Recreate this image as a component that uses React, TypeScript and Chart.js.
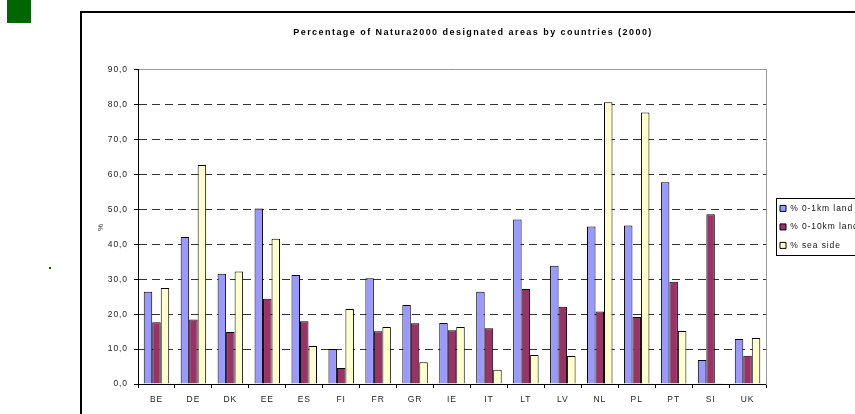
import React, { useEffect, useRef } from 'react';
import { Chart, registerables } from 'chart.js';

Chart.register(...registerables);

const categories = ['BE', 'DE', 'DK', 'EE', 'ES', 'FI', 'FR', 'GR', 'IE', 'IT', 'LT', 'LV', 'NL', 'PL', 'PT', 'SI', 'UK'];
const land1km = [26.4, 42.1, 31.6, 50.3, 31.2, 10.0, 30.3, 22.6, 17.5, 26.4, 47.1, 33.9, 45.1, 45.4, 57.8, 6.9, 12.9];
const land10km = [17.7, 18.5, 14.9, 24.4, 18.0, 4.6, 15.1, 17.4, 15.4, 16.0, 27.2, 22.1, 20.8, 19.2, 29.3, 48.6, 8.1];
const seaSide = [27.5, 62.7, 32.2, 41.6, 10.9, 21.5, 16.3, 6.2, 16.3, 4.1, 8.3, 8.0, 80.7, 77.8, 15.2, 0.2, 13.2];
const seriesLabels = ['% 0-1km land', '% 0-10km land', '% sea side'];
const seriesColors = ['#9999FF', '#993366', '#FFFFCC'];
const chartTitle = 'Percentage of Natura2000 designated areas by countries (2000)';
const yAxisTitle = '%';
const yMin = 0;
const yMax = 90;
const yStep = 10;

const FONT = '"Liberation Sans", Arial, sans-serif';
const BASE_SPACING = '0.9px';
const TITLE_SPACING = '1.45px';
const TITLE_SHIFT_X = 42;

const spacingPlugin = {
  id: 'letterSpacing',
  beforeUpdate(chart: any) {
    chart.ctx.letterSpacing = BASE_SPACING;
    const tb = chart.titleBlock;
    if (tb && !tb.__spacingPatched) {
      const orig = tb.draw.bind(tb);
      tb.draw = function (...args: any[]) {
        const c = chart.ctx;
        const prev = c.letterSpacing;
        c.save();
        c.translate(TITLE_SHIFT_X, 0);
        c.letterSpacing = TITLE_SPACING;
        orig(...args);
        c.restore();
        c.letterSpacing = prev;
      };
      tb.__spacingPatched = true;
    }
  },
  beforeLayout(chart: any) {
    chart.ctx.letterSpacing = BASE_SPACING;
    const lg = chart.legend;
    if (lg && !lg.__fitPatched) {
      const origFit = lg.fit.bind(lg);
      lg.fit = function () {
        origFit();
        this.width = 92;
      };
      lg.__fitPatched = true;
    }
  },
  beforeDraw(chart: any) {
    chart.ctx.letterSpacing = BASE_SPACING;
  },
};

const legendBorderPlugin = {
  id: 'legendBorder',
  afterDraw(chart: any) {
    const lg = chart.legend;
    if (!lg || !lg.legendHitBoxes || !lg.legendHitBoxes.length) return;
    const hb = lg.legendHitBoxes;
    const ctx = chart.ctx;
    const top = Math.round(hb[0].top - 6) + 0.5;
    const last = hb[hb.length - 1];
    const bottom = Math.round(last.top + last.height + 5) + 0.5;
    const left = Math.round(lg.left + 6) + 0.5;
    ctx.save();
    ctx.strokeStyle = '#000';
    ctx.lineWidth = 1;
    ctx.strokeRect(left, top, 300, bottom - top);
    ctx.restore();
  },
};

export default function App() {
  const ref = useRef<HTMLCanvasElement>(null);

  useEffect(() => {
    const canvas = ref.current;
    if (!canvas) return;
    const values = [land1km, land10km, seaSide];
    const chart = new Chart(canvas, {
      type: 'bar',
      data: {
        labels: categories,
        datasets: values.map((d, i) => ({
          label: seriesLabels[i],
          data: d,
          backgroundColor: seriesColors[i],
          borderColor: '#000',
          borderWidth: 1,
          categoryPercentage: 0.69,
          barPercentage: 1,
          xAxisID: 'x',
          yAxisID: 'y',
        })),
      },
      options: {
        responsive: false,
        animation: false,
        devicePixelRatio: 1,
        layout: { padding: { left: 0, right: 0, top: 0, bottom: 0 } },
        plugins: {
          tooltip: { enabled: false },
          title: {
            display: true,
            text: chartTitle,
            color: '#000',
            font: { family: FONT, size: 9, weight: 'bold' },
            padding: { top: 27, bottom: 32 },
          },
          legend: {
            display: true,
            position: 'right',
            align: 'center',
            fullSize: false,
            labels: {
              boxWidth: 6,
              boxHeight: 6,
              padding: 10,
              color: '#111',
              font: { family: FONT, size: 8.5 },
            },
          },
        },
        scales: {
          x: {
            type: 'category',
            position: 'bottom',
            offset: true,
            grid: {
              display: true,
              drawOnChartArea: false,
              drawTicks: true,
              tickLength: 4,
              color: '#000',
              tickColor: '#000',
              offset: true,
            },
            border: { display: true, color: '#000', width: 1 },
            ticks: {
              autoSkip: false,
              maxRotation: 0,
              minRotation: 0,
              padding: 7,
              color: '#222',
              font: { family: FONT, size: 8.5 },
            },
            afterFit(scale: any) {
              scale.height = 30;
            },
          },
          x2: {
            type: 'category',
            position: 'top',
            display: true,
            grid: { display: false },
            ticks: { display: false },
            border: { display: true, color: '#9a9a9a', width: 1 },
            afterFit(scale: any) {
              scale.height = 0;
            },
          },
          y: {
            type: 'linear',
            position: 'left',
            min: yMin,
            max: yMax,
            grid: {
              display: true,
              color: '#333',
              lineWidth: 1,
              tickLength: 4,
              tickColor: '#000',
              drawTicks: true,
            },
            border: { display: true, color: '#000', width: 1, dash: [8, 5] },
            ticks: {
              stepSize: yStep,
              padding: 6,
              color: '#222',
              font: { family: FONT, size: 8.5 },
              callback: (v: any) => Number(v).toFixed(1).replace('.', ','),
            },
            title: {
              display: true,
              text: yAxisTitle,
              color: '#222',
              font: { family: FONT, size: 8 },
              padding: { top: 96, bottom: 0 },
            },
            afterFit(scale: any) {
              scale.width = 138;
            },
          },
          y1: {
            type: 'linear',
            position: 'right',
            display: true,
            grid: { display: false },
            ticks: { display: false },
            border: { display: true, color: '#9a9a9a', width: 1 },
            afterFit(scale: any) {
              scale.width = 4;
            },
          },
        },
      } as any,
      plugins: [spacingPlugin, legendBorderPlugin],
    });
    return () => chart.destroy();
  }, []);

  return (
    <div
      style={{
        position: 'fixed',
        left: 0,
        top: 0,
        width: 855,
        height: 414,
        overflow: 'hidden',
        background: '#fff',
      }}
    >
      <div style={{ position: 'absolute', left: 7, top: 0, width: 24, height: 23, background: '#006600' }} />
      <div style={{ position: 'absolute', left: 49, top: 267, width: 2, height: 2, background: '#006600' }} />
      <div
        style={{
          position: 'absolute',
          left: 80,
          top: 11,
          width: 900,
          height: 500,
          borderLeft: '2px solid #000',
          borderTop: '2px solid #000',
        }}
      />
      <canvas ref={ref} width={862} height={414} style={{ position: 'absolute', left: 0, top: 0 }} />
    </div>
  );
}
